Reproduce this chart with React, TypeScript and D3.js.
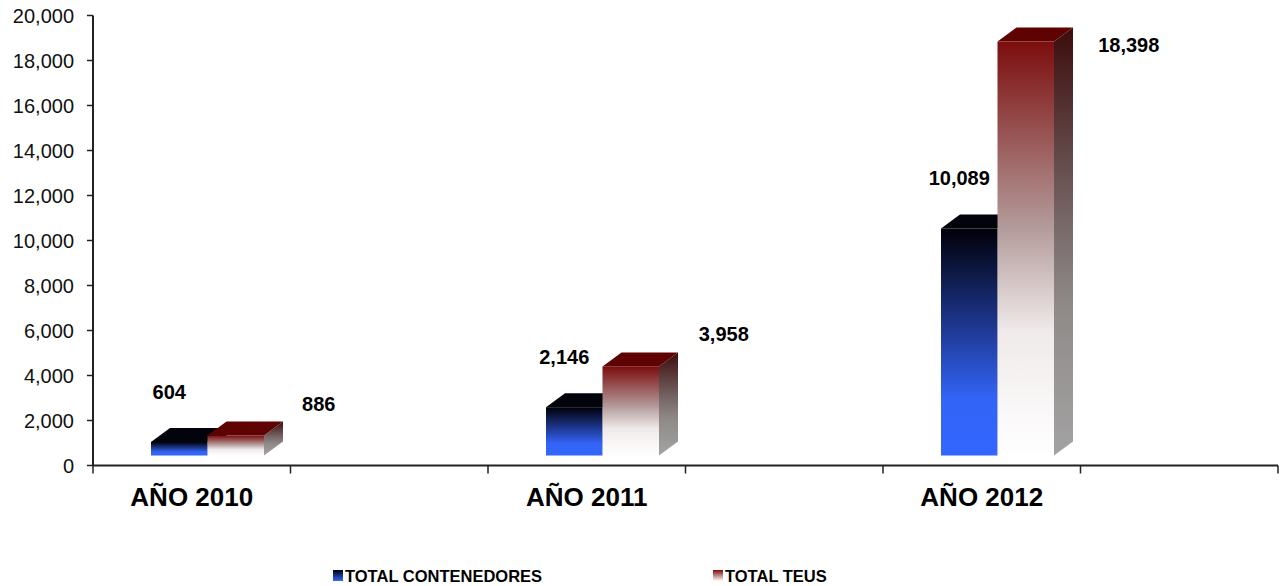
import React from "react";
import * as d3 from "d3";

// chart data
const categories = ["AÑO 2010", "AÑO 2011", "AÑO 2012"];
const seriesNames = ["TOTAL CONTENEDORES", "TOTAL TEUS"];
const contenedores = [604, 2146, 10089];
const teus = [886, 3958, 18398];
const yTicks = [0, 2000, 4000, 6000, 8000, 10000, 12000, 14000, 16000, 18000, 20000];

const W = 1280;
const H = 586;
const font = "'Liberation Sans', Arial, sans-serif";

const App = () => {
  // scales
  const yScale = d3.scaleLinear().domain([0, 20000]).range([465.5, 15.5]);
  const xScale = d3.scaleBand().domain(categories).range([93, 1278]).padding(0);
  const bw = xScale.bandwidth();
  const sub = d3
    .scaleBand()
    .domain(seriesNames)
    .range([58, 58 + 113])
    .padding(0);

  // 3d look
  const floor = 10;
  const dx = 19;
  const dy = 14;
  const base = yScale(0) - floor;
  const fmt = d3.format(",");

  const series = [
    { name: seriesNames[0], values: contenedores, front: "url(#blueFront)", top: "#03030c", side: "url(#blueSide)" },
    { name: seriesNames[1], values: teus, front: "url(#redFront)", top: "#5e0202", side: "url(#redSide)" },
  ];

  const xTicks: number[] = [];
  categories.forEach((c) => {
    xTicks.push(xScale(c)!);
    xTicks.push(xScale(c)! + bw / 2);
  });
  xTicks.push(1278);

  return (
    <svg
      width={W}
      height={H}
      style={{ position: "absolute", left: 0, top: 0, background: "#fff" }}
      fontFamily={font}
    >
      <defs>
        <linearGradient id="blueFront" x1="0" y1="0" x2="0" y2="1">
          <stop offset="0" stopColor="#000008" />
          <stop offset="0.4" stopColor="#1c3386" />
          <stop offset="0.75" stopColor="#3264f5" />
          <stop offset="1" stopColor="#3366ff" />
        </linearGradient>
        <linearGradient id="blueSide" x1="0" y1="0" x2="0" y2="1">
          <stop offset="0" stopColor="#000010" />
          <stop offset="1" stopColor="#1d3a90" />
        </linearGradient>
        <linearGradient id="redFront" x1="0" y1="0" x2="0" y2="1">
          <stop offset="0" stopColor="#7c0d0d" />
          <stop offset="0.45" stopColor="#b49b9b" />
          <stop offset="0.7" stopColor="#f0eaea" />
          <stop offset="1" stopColor="#ffffff" />
        </linearGradient>
        <linearGradient id="redSide" x1="0" y1="0" x2="0" y2="1">
          <stop offset="0" stopColor="#3c0c0c" />
          <stop offset="0.45" stopColor="#776767" />
          <stop offset="0.65" stopColor="#8f8a88" />
          <stop offset="1" stopColor="#a3a3a3" />
        </linearGradient>
        <linearGradient id="blueLeg" x1="0" y1="0" x2="0" y2="1">
          <stop offset="0" stopColor="#000010" />
          <stop offset="1" stopColor="#3366ff" />
        </linearGradient>
        <linearGradient id="redLeg" x1="0" y1="0" x2="0" y2="1">
          <stop offset="0" stopColor="#7c0d0d" />
          <stop offset="1" stopColor="#ffffff" />
        </linearGradient>
      </defs>

      {/* y axis */}
      <line x1={93} x2={93} y1={yScale(20000)} y2={yScale(0)} stroke="#222" strokeWidth={2} />
      {yTicks.map((t) => (
        <g key={t}>
          <line x1={87} x2={93} y1={yScale(t)} y2={yScale(t)} stroke="#222" strokeWidth={1.5} />
          <text x={74} y={yScale(t)} textAnchor="end" dominantBaseline="central" fontSize={20} fill="#111">
            {fmt(t)}
          </text>
        </g>
      ))}

      {/* x axis */}
      <line x1={93} x2={1278} y1={yScale(0)} y2={yScale(0)} stroke="#222" strokeWidth={2} />
      {xTicks.map((t, i) => (
        <line key={i} x1={t} x2={t} y1={yScale(0)} y2={yScale(0) + 8} stroke="#222" strokeWidth={1.5} />
      ))}
      {categories.map((c) => (
        <text
          key={c}
          x={xScale(c)! + bw / 4}
          y={506}
          textAnchor="middle"
          fontSize={26}
          fontWeight="bold"
          fill="#000"
        >
          {c}
        </text>
      ))}

      {/* bars */}
      {categories.map((c, i) =>
        series.map((s) => {
          const x0 = xScale(c)! + sub(s.name)!;
          const x1 = x0 + sub.bandwidth();
          const top = yScale(s.values[i]) - floor;
          return (
            <g key={c + s.name}>
              <rect x={x0} y={top} width={x1 - x0} height={base - top} fill={s.front} />
              <polygon
                points={`${x1},${top} ${x1 + dx},${top - dy} ${x1 + dx},${base - dy} ${x1},${base}`}
                fill={s.side}
              />
              <polygon
                points={`${x0},${top} ${x0 + dx},${top - dy} ${x1 + dx},${top - dy} ${x1},${top}`}
                fill={s.top}
              />
            </g>
          );
        })
      )}

      {/* value labels */}
      {categories.map((c, i) => {
        const bx = xScale(c)! + sub(seriesNames[0])! + sub.bandwidth() / 2;
        const rx = xScale(c)! + sub(seriesNames[1])! + sub.bandwidth() / 2;
        const by = yScale(contenedores[i]) - floor - 50;
        const ry = Math.max(yScale(teus[i]) - floor - 32, yScale(20000) + 29);
        return (
          <g key={"lab" + c} fontSize={20} fontWeight="bold" fill="#000" textAnchor="middle">
            <text x={bx - 10} y={by} dominantBaseline="central">
              {fmt(contenedores[i])}
            </text>
            <text x={rx + 83 + 10 * i} y={ry} dominantBaseline="central">
              {fmt(teus[i])}
            </text>
          </g>
        );
      })}

      {/* legend */}
      <rect x={333} y={570} width={10} height={11} fill="url(#blueLeg)" />
      <text x={345} y={582} fontSize={16.5} fontWeight="bold" fill="#000">
        {seriesNames[0]}
      </text>
      <rect x={713} y={570} width={10} height={11} fill="url(#redLeg)" />
      <text x={725} y={582} fontSize={16.5} fontWeight="bold" fill="#000">
        {seriesNames[1]}
      </text>
    </svg>
  );
};

export default App;
